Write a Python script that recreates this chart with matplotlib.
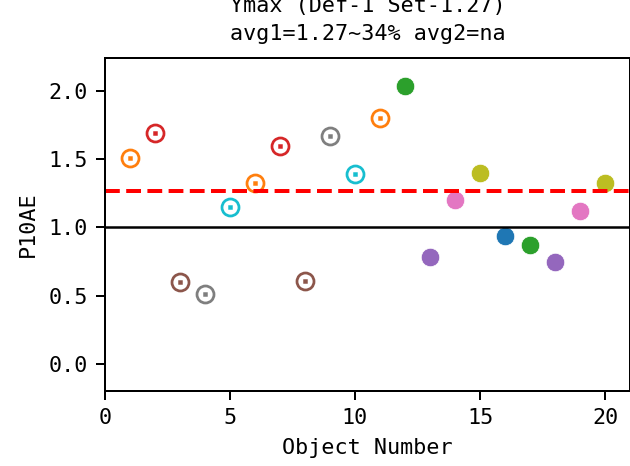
import numpy as np
import matplotlib
matplotlib.use("Agg")
import matplotlib.pyplot as plt

plt.rcParams['font.family'] = ['DejaVu Sans Mono']
plt.rcParams['font.size'] = 8.7
plt.rcParams['axes.titlesize'] = 8.7
plt.rcParams['axes.labelsize'] = 8.7
plt.rcParams['xtick.labelsize'] = 8.7
plt.rcParams['ytick.labelsize'] = 8.7

# 読み取った値
obj_no = [1, 2, 3, 4, 5, 6, 7, 8, 9, 10, 11, 12, 13, 14, 15, 16, 17, 18, 19, 20]
p10ae = [1.51, 1.69, 0.60, 0.51, 1.15, 1.33, 1.60, 0.61, 1.67, 1.39, 1.80,
         2.04, 0.78, 1.20, 1.40, 0.94, 0.87, 0.75, 1.12, 1.33]
hollow = [True] * 11 + [False] * 9
colors = ['tab:orange', 'tab:red', 'tab:brown', 'tab:gray', 'tab:cyan',
          'tab:orange', 'tab:red', 'tab:brown', 'tab:gray', 'tab:cyan',
          'tab:orange', 'tab:green', 'tab:purple', 'tab:pink', 'tab:olive',
          'tab:blue', 'tab:green', 'tab:purple', 'tab:pink', 'tab:olive']
avg1 = 1.27
ref = 1.0

fig = plt.figure(figsize=(630 / 180, 466 / 180), dpi=180)
ax = fig.add_axes([105 / 630, 75 / 466, 525 / 630, 333 / 466])

for x, y, h, c in zip(obj_no, p10ae, hollow, colors):
    if h:
        ax.plot(x, y, 'o', ms=6.8, mfc='none', mec=c, mew=1.1)
        ax.plot(x, y, 's', ms=1.0, color=c)
    else:
        ax.plot(x, y, 'o', ms=7.4, color=c, mec='white', mew=0.3)

ax.axhline(avg1, color='red', ls='--', lw=1.6)
ax.axhline(ref, color='black', lw=1.0)

ax.set_xlim(0, 21)
ax.set_ylim(-0.2, max(p10ae) * 1.1)
ax.set_xticks([0, 5, 10, 15, 20])
ax.set_yticks([0.0, 0.5, 1.0, 1.5, 2.0])
ax.set_xlabel('Object Number')
ax.set_ylabel('P10AE')
ax.set_title('Ymax (Def-1 Set-1.27)\navg1=1.27~34% avg2=na',
             linespacing=1.55, pad=7)

fig.savefig('out.png', dpi=180)
